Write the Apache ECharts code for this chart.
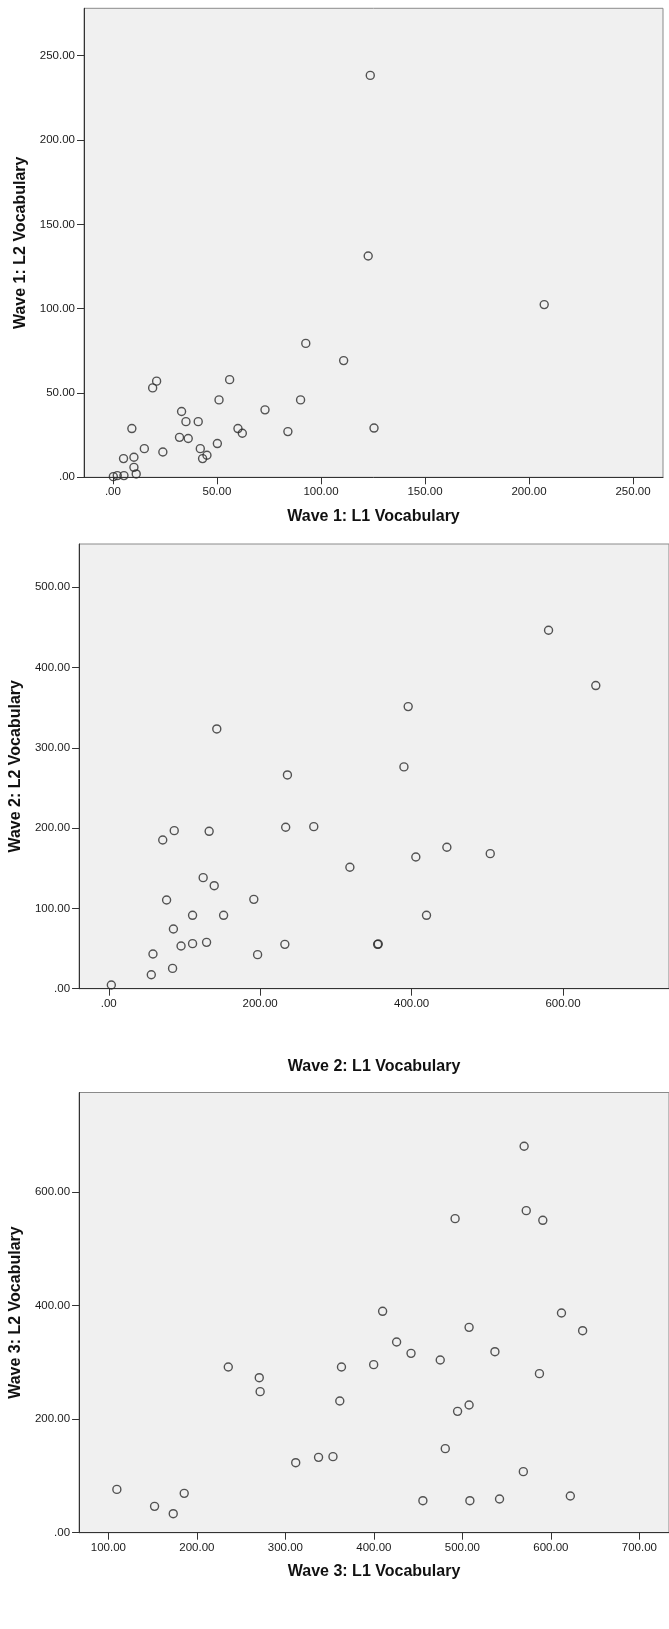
<!DOCTYPE html>
<html>
<head>
<meta charset="utf-8">
<script src="https://cdn.jsdelivr.net/npm/echarts@6/dist/echarts.min.js"></script>
<style>
html,body{margin:0;padding:0;background:#fff;}
#c{width:669px;height:1629px;}
</style>
</head>
<body>
<div id="c"></div>
<script>
// ---- Data ----
const wave1L1 = [123.7,122.7,207.3,92.7,110.9,0.2,2.1,5.3,11.2,10.1,5.1,10.1,15.1,24.0,9.1,19.1,21.0,33.0,35.1,41.0,32.0,36.2,42.0,45.2,43.1,50.2,51.0,56.1,60.1,62.2,73.1,84.1,90.2,125.5];
const wave1L2 = [238.3,131.2,102.4,79.4,69.2,0.4,1.0,1.0,2.0,5.9,11.1,11.9,17.0,15.0,28.9,53.0,57.0,39.0,33.0,33.0,23.7,23.0,17.0,13.1,11.1,20.0,45.9,57.9,28.9,26.1,40.0,27.1,45.9,29.2];

const wave2L1 = [580.9,643.3,395.5,142.7,389.9,236.0,86.5,132.6,233.7,270.8,71.3,446.6,503.9,405.6,318.5,124.7,139.3,76.4,191.6,110.7,151.7,419.7,85.4,129.2,110.7,95.5,232.6,355.1,356.0,58.4,196.6,84.3,56.2,3.4];
const wave2L2 = [446.4,377.5,351.3,323.5,276.2,266.2,196.8,196.0,201.0,201.8,185.2,176.1,168.2,164.0,151.2,138.3,128.3,110.5,111.3,91.4,91.4,91.4,74.3,57.7,56.1,53.2,55.2,55.2,55.6,43.2,42.4,25.3,17.4,4.6];

const wave3L1 = [569.8,491.8,572.2,590.9,409.9,612.0,507.6,635.9,425.7,442.0,536.8,475.0,235.5,363.4,399.8,587.1,270.5,271.5,361.5,507.6,494.6,480.7,311.7,337.5,353.8,568.9,109.6,185.7,152.2,173.3,455.4,508.5,542.0,622.0];
const wave3L2 = [680.6,553.1,567.2,550.2,389.9,387.0,361.7,355.8,335.9,315.9,318.8,304.2,291.8,291.8,296.0,280.1,273.0,248.4,231.9,224.9,213.7,148.0,123.3,132.7,133.9,107.5,76.3,69.3,46.4,33.5,56.4,56.4,59.3,64.6];

const xTicks1 = [0,50,100,150,200,250];
const yTicks1 = [0,50,100,150,200,250];
const xTicks2 = [0,200,400,600];
const yTicks2 = [0,100,200,300,400,500];
const xTicks3 = [100,200,300,400,500,600,700];
const yTicks3 = [0,200,400,600];

const xNames = ['Wave 1: L1 Vocabulary','Wave 2: L1 Vocabulary','Wave 3: L1 Vocabulary'];
const yNames = ['Wave 1: L2 Vocabulary','Wave 2: L2 Vocabulary','Wave 3: L2 Vocabulary'];

// ---- Chart ----
const FONT = '"Liberation Sans", Arial, sans-serif';
const fmt = v => (v === 0 ? '.00' : v.toFixed(2));

const panels = [
  {grid:{left:84, top:8.3, width:579, height:469}, x:[-13.9,264.4], y:[0,278.1], xt:xTicks1, yt:yTicks1, xGap:31, yGap:52, xs:wave1L1, ys:wave1L2},
  {grid:{left:79, top:544, width:592, height:444.7}, x:[-39.2,740], y:[0,553.8], xt:xTicks2, yt:yTicks2, xGap:70, yGap:53, xs:wave2L1, ys:wave2L2},
  {grid:{left:77.2, top:1092.5, width:594, height:440.2}, x:[66.9,733.5], y:[0,775.3], xt:xTicks3, yt:yTicks3, xGap:31, yGap:53, xs:wave3L1, ys:wave3L2}
];

const option = {
  animation:false,
  grid:[], xAxis:[], yAxis:[], series:[]
};

panels.forEach((p,i)=>{
  option.grid.push(Object.assign({show:true, backgroundColor:'#f0f0f0', borderColor:'#8a8a8a', borderWidth:1, containLabel:false}, p.grid));
  const common = {
    gridIndex:i, type:'value', nameLocation:'middle',
    nameTextStyle:{fontFamily:FONT, fontSize:16, fontWeight:'bold', color:'#111'},
    axisLine:{show:true, onZero:false, lineStyle:{color:'#333', width:1}},
    axisTick:{show:true, inside:false, length:7, lineStyle:{color:'#333', width:1}},
    axisLabel:{show:true, margin:9, fontFamily:FONT, fontSize:11.5, color:'#1a1a1a', formatter:fmt},
    splitLine:{show:false}
  };
  option.xAxis.push(Object.assign({}, common, {
    name:xNames[i], nameGap:p.xGap, min:p.x[0], max:p.x[1],
    axisTick:Object.assign({}, common.axisTick, {customValues:p.xt}),
    axisLabel:Object.assign({}, common.axisLabel, {customValues:p.xt})
  }));
  option.yAxis.push(Object.assign({}, common, {
    name:yNames[i], nameGap:p.yGap, nameRotate:90, min:p.y[0], max:p.y[1],
    axisTick:Object.assign({}, common.axisTick, {customValues:p.yt}),
    axisLabel:Object.assign({}, common.axisLabel, {customValues:p.yt})
  }));
  option.series.push({
    type:'scatter', xAxisIndex:i, yAxisIndex:i,
    symbol:'circle', symbolSize:8,
    itemStyle:{color:'rgba(0,0,0,0)', borderColor:'#2a2a2a', borderWidth:1.4},
    emphasis:{disabled:true},
    data:p.xs.map((v,k)=>[v, p.ys[k]])
  });
});

const chart = echarts.init(document.getElementById('c'), null, {renderer:'canvas'});
chart.setOption(option);
</script>
</body>
</html>
